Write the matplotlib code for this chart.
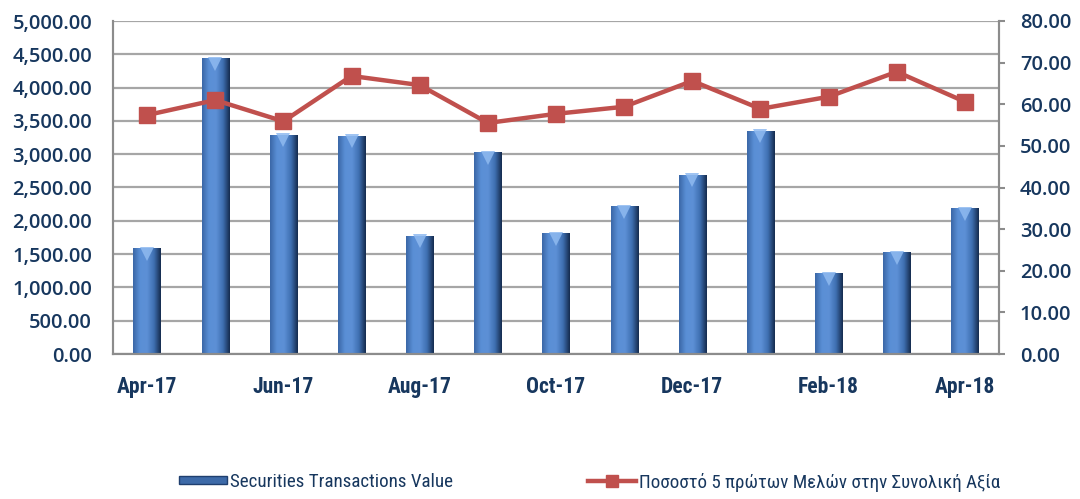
import numpy as np
import matplotlib
matplotlib.use("Agg")
import matplotlib.pyplot as plt
import matplotlib.transforms as mtransforms
from matplotlib.colors import LinearSegmentedColormap
from matplotlib.lines import Line2D
from matplotlib.patches import Rectangle

months = ["Apr-17", "May-17", "Jun-17", "Jul-17", "Aug-17", "Sep-17", "Oct-17",
          "Nov-17", "Dec-17", "Jan-18", "Feb-18", "Mar-18", "Apr-18"]
transactions_value = [1590, 4440, 3290, 3275, 1775, 3030, 1815,
                      2215, 2690, 3350, 1215, 1530, 2190]
top5_share = [57.4, 61.0, 55.9, 66.8, 64.6, 55.5, 57.7,
              59.4, 65.6, 58.9, 61.8, 67.8, 60.6]

bar_label = "Securities Transactions Value"
line_label = "Ποσοστό 5 πρώτων Μελών στην Συνολική Αξία"

txt_col = "#17375e"
narrow = ["Roboto Condensed", "Roboto", "DejaVu Sans"]
plain = ["Open Sans", "DejaVu Sans"]

fig = plt.figure(figsize=(10.8, 4.99), dpi=100)
ax = fig.add_axes([113/1080, 1 - 354/499, (999 - 113)/1080, (354 - 21)/499])
ax2 = ax.twinx()

x = np.arange(len(months))
bars = ax.bar(x, transactions_value, width=0.4, color="#4f81bd", zorder=2)

# cylinder-like shading on each bar
cyl = LinearSegmentedColormap.from_list(
    "cyl", ["#3a66a6", "#5a8fd6", "#5d90d6", "#3f70b2", "#142a4c"])
grad = np.linspace(0, 1, 256)[None, :]
for r in bars:
    x0, w, h = r.get_x(), r.get_width(), r.get_height()
    im = ax.imshow(grad, cmap=cyl, aspect="auto", interpolation="bicubic",
                   extent=(x0, x0 + w, 0, h), zorder=2)
    im.set_clip_path(r)

# light bevel at the top of each bar
shift = mtransforms.ScaledTranslation(0, -4/72, fig.dpi_scale_trans)
ax.plot(x, transactions_value, ls="none", marker="v", ms=10, mew=0,
        color="#8fbaf0", alpha=0.85, zorder=2.5, transform=ax.transData + shift)

ax2.plot(x, top5_share, color="#c0504d", lw=3.2, marker="s", ms=12,
         zorder=3)

ax.set_xlim(-0.5, len(months) - 0.5)
ax.set_ylim(0, 5000)
ax2.set_ylim(0, 80)

ax.set_yticks(np.arange(0, 5001, 500))
ax.set_yticklabels([f"{v:,.2f}" for v in np.arange(0, 5001, 500)])
ax2.set_yticks(np.arange(0, 81, 10))
ax2.set_yticklabels([f"{v:.2f}" for v in np.arange(0, 81, 10)])
ax.set_xticks(x[::2])
ax.set_xticklabels(months[::2])

ax.grid(axis="y", color="#a6a6a6", lw=1.6, zorder=0)
ax.set_axisbelow(True)

for a in (ax, ax2):
    for s in a.spines.values():
        s.set_color("#8c8c8c")
        s.set_linewidth(1.5)
    a.spines["top"].set_visible(False)

ax.tick_params(axis="y", length=0, pad=15, labelsize=14.5, labelcolor=txt_col)
ax.tick_params(axis="x", length=0, pad=16, labelsize=15.5, labelcolor=txt_col)
ax2.tick_params(axis="y", length=4.5, width=1.5, color="#8c8c8c", pad=10.5,
                labelsize=14.5, labelcolor=txt_col)
for t in ax.get_yticklabels() + ax2.get_yticklabels():
    t.set_family(plain)
    t.set_fontweight("semibold")
for t in ax.get_xticklabels():
    t.set_family(narrow)
    t.set_fontweight("bold")

bar_handle = Rectangle((0, 0), 1, 1, facecolor="#3d6aa8", edgecolor="#1f3f6f")
line_handle = Line2D([], [], color="#c0504d", lw=3.2, marker="s", ms=8)

leg1 = fig.legend([bar_handle], [bar_label], loc="center left",
                  bbox_to_anchor=(179/1080, 17/499), frameon=False,
                  borderpad=0, borderaxespad=0, handlelength=2.5,
                  handleheight=0.3, handletextpad=0.2,
                  prop={"family": narrow, "size": 13.7})
leg2 = fig.legend([line_handle], [line_label], loc="center left",
                  bbox_to_anchor=(588/1080, 17/499), frameon=False,
                  borderpad=0, borderaxespad=0, handlelength=2.5,
                  handletextpad=0.2, prop={"family": narrow, "size": 13.7})
for lg in (leg1, leg2):
    for t in lg.get_texts():
        t.set_color(txt_col)

fig.savefig("out.png", dpi=100)
